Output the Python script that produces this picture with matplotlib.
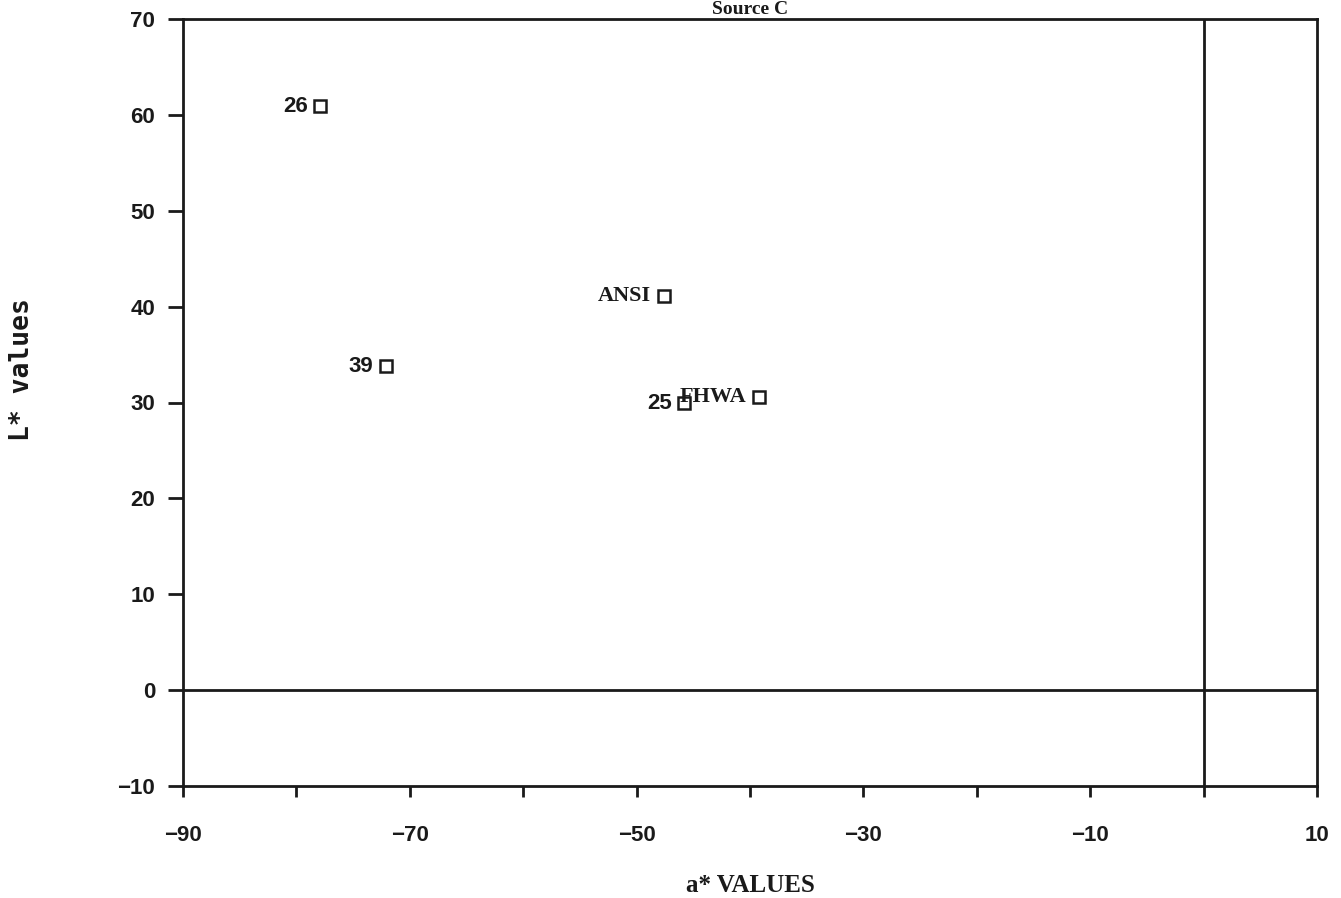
import matplotlib
matplotlib.use("Agg")
import matplotlib.pyplot as plt
from matplotlib.ticker import MultipleLocator, FixedLocator

labels = ["26", "39", "ANSI", "25", "FHWA"]
a_vals = [-77.9, -72.1, -47.6, -45.8, -39.2]
L_vals = [60.9, 33.8, 41.1, 29.9, 30.6]
label_fonts = ["Liberation Sans", "Liberation Sans", "Liberation Serif", "Liberation Sans", "Liberation Serif"]

x_ticks = [-90, -70, -50, -30, -10, 10]
y_ticks = [-10, 0, 10, 20, 30, 40, 50, 60, 70]

fig = plt.figure(figsize=(13.41, 8.98), dpi=100)
ax = fig.add_axes([183 / 1341, 1 - 786 / 898, (1317 - 183) / 1341, (786 - 19) / 898])

ax.set_xlim(-90, 10)
ax.set_ylim(-10, 70)

ax.plot(a_vals, L_vals, linestyle="none", marker="s", markersize=8,
        markerfacecolor="white", markeredgecolor="#1a1a1a", markeredgewidth=1.8)

for name, xv, yv, fam in zip(labels, a_vals, L_vals, label_fonts):
    ax.annotate(name, (xv, yv), xytext=(-9, 0), textcoords="offset points",
                ha="right", va="center", fontsize=16, fontweight="bold",
                family=fam, color="#1a1a1a")

ax.axhline(0, color="#1a1a1a", lw=2)
ax.axvline(0, color="#1a1a1a", lw=2)

for s in ax.spines.values():
    s.set_linewidth(2)
    s.set_color("#1a1a1a")

ax.xaxis.set_major_locator(FixedLocator(x_ticks))
ax.xaxis.set_minor_locator(MultipleLocator(10))
ax.yaxis.set_major_locator(FixedLocator(y_ticks))
ax.set_xticklabels([str(t).replace("-", "\u2212") for t in x_ticks])
ax.set_yticklabels([str(t).replace("-", "\u2212") for t in y_ticks])
ax.tick_params(axis="x", which="both", direction="out", length=8, width=2, pad=20,
               labelsize=16, colors="#1a1a1a")
ax.tick_params(axis="y", which="major", direction="out", length=11, width=2, pad=9,
               labelsize=16, colors="#1a1a1a")
for lab in ax.get_xticklabels() + ax.get_yticklabels():
    lab.set_fontfamily("Liberation Sans")
    lab.set_fontweight("bold")

ax.set_xlabel("a* VALUES", fontsize=18, fontweight="bold", family="Liberation Serif",
              labelpad=20, color="#1a1a1a")
fig.text(22 / 1341, 1 - 370 / 898, "L* values", rotation=90, ha="center", va="center",
         fontsize=19, fontweight="bold", family="DejaVu Sans Mono", color="#1a1a1a")

fig.text(750 / 1341, 1 - 9 / 898, "Source C", ha="center", va="center", fontsize=14,
         fontweight="bold", family="Liberation Serif", color="#1a1a1a")

fig.savefig("out.png", dpi=100)
